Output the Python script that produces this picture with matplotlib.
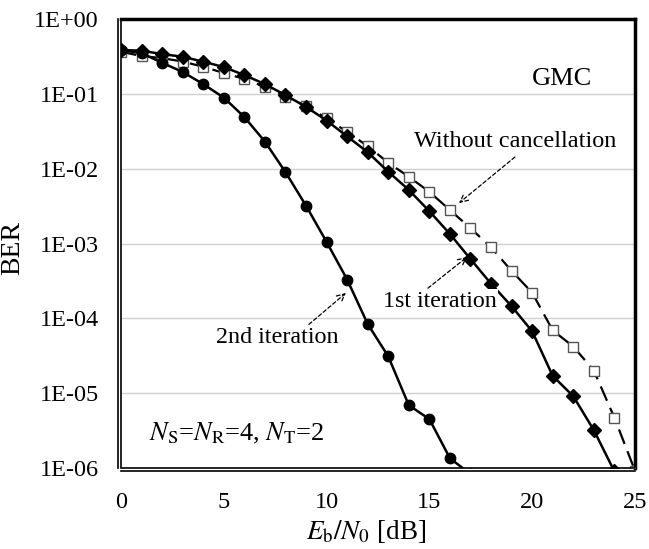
import matplotlib
matplotlib.use("Agg")
import matplotlib.pyplot as plt
from matplotlib.patches import Rectangle

plt.rcParams['font.family'] = ['Liberation Serif', 'DejaVu Serif']
plt.rcParams['mathtext.fontset'] = 'stix'

snr_2nd = list(range(0, 18))
ber_2nd = [0.385, 0.35, 0.26, 0.196, 0.135, 0.089, 0.049, 0.023, 0.0090, 0.0032,
           0.00105, 0.00033, 8.4e-5, 3.1e-5, 6.9e-6, 4.5e-6, 1.35e-6, 8.3e-7]

snr_1st = list(range(0, 25))
ber_1st = [0.385, 0.377, 0.34, 0.313, 0.269, 0.228, 0.178, 0.135, 0.096, 0.067,
           0.044, 0.027, 0.0166, 0.0091, 0.0052, 0.0027, 0.00134, 0.00062, 0.00029,
           0.000145, 6.7e-5, 1.7e-5, 9.1e-6, 3.2e-6, 9.0e-7]

snr_wo = list(range(0, 26))
ber_wo = [0.365, 0.32, 0.30, 0.27, 0.23, 0.19, 0.158, 0.124, 0.092, 0.069,
          0.047, 0.031, 0.020, 0.012, 0.0078, 0.0049, 0.0028, 0.0016, 0.00089,
          0.00043, 0.00022, 6.9e-5, 4.2e-5, 2.0e-5, 4.7e-6, 9.2e-7]

xticks = [0, 5, 10, 15, 20, 25]
yticks = [1e0, 1e-1, 1e-2, 1e-3, 1e-4, 1e-5, 1e-6]
ytick_labels = ['1E+00', '1E-01', '1E-02', '1E-03', '1E-04', '1E-05', '1E-06']

fig = plt.figure(figsize=(6.49, 5.49), dpi=100)
ax = fig.add_axes([0.1864, 0.1475, 0.792, 0.8179])

ax.plot(snr_wo, ber_wo, color='black', lw=1.6, dashes=(7, 3.5), marker='s',
        markersize=7.5, markerfacecolor='white', markeredgecolor='#555555',
        markeredgewidth=1.0, zorder=3, clip_on=True)
ax.plot(snr_1st, ber_1st, color='black', lw=1.8, marker='D', markersize=7,
        markerfacecolor='black', markeredgecolor='black', zorder=4)
ax.plot(snr_2nd, ber_2nd, color='black', lw=1.8, marker='o', markersize=7.5,
        markerfacecolor='black', markeredgecolor='black', zorder=4)

ax.set_yscale('log')
ax.set_xlim(0, 25)
ax.set_ylim(1e-6, 1e0)
ax.set_xticks(xticks)
ax.set_xticklabels([str(t) for t in xticks])
ax.set_yticks(yticks)
ax.set_yticklabels(ytick_labels)
ax.minorticks_off()
ax.tick_params(axis='both', length=0, labelsize=17.5)
ax.tick_params(axis='y', pad=14)
ax.tick_params(axis='x', pad=15)

for y in yticks[1:-1]:
    ax.axhline(y, color='#d0d0d0', lw=1.0, zorder=1)

for s in ['top', 'right']:
    ax.spines[s].set_linewidth(2.5)
for s in ['left', 'bottom']:
    ax.spines[s].set_linewidth(1.2)
    ax.spines[s].set_position(('outward', 2))
ax.add_patch(Rectangle((0, 0), 1, 1, transform=ax.transAxes, fill=False,
                       lw=1.2, edgecolor='black', zorder=6, clip_on=False))

ax.set_ylabel('BER', fontsize=20)
ax.yaxis.set_label_coords(-0.187, 0.49)
ax.set_xlabel(r'$E_{\mathrm{b}}/N_0$ [dB]', fontsize=19.5)
ax.xaxis.set_label_coords(0.477, -0.112)

bb = dict(facecolor='white', edgecolor='none', pad=1.0)
ax.text(21.45, 0.158, 'GMC', fontsize=19, ha='center', va='center', zorder=7)
ax.text(19.16, 0.0234, 'Without cancellation', fontsize=17.5, ha='center',
        va='center', bbox=bb, zorder=7)
ax.text(15.52, 1.70e-4, '1st iteration', fontsize=17.3, ha='center',
        va='center', bbox=bb, zorder=7)
ax.text(7.59, 5.6e-5, '2nd iteration', fontsize=17.4, ha='center',
        va='center', bbox=bb, zorder=7)
ax.text(1.36, 2.9e-6, r'$N_{\mathrm{S}}$=$N_{\mathrm{R}}$=4, $N_{\mathrm{T}}$=2',
        fontsize=19, ha='left', va='center', zorder=7)

arrow = dict(arrowstyle='->', color='black', lw=0.9, linestyle=(0, (3, 2)),
             shrinkA=0, shrinkB=0, mutation_scale=14)
ax.annotate('', xy=(16.44, 0.00347), xytext=(19.16, 0.0143), arrowprops=arrow, zorder=7)
ax.annotate('', xy=(16.83, 6.6e-4), xytext=(14.93, 2.53e-4), arrowprops=arrow, zorder=7)
ax.annotate('', xy=(10.94, 2.18e-4), xytext=(9.14, 8.3e-5), arrowprops=arrow, zorder=7)

fig.savefig('out.png', dpi=100)
